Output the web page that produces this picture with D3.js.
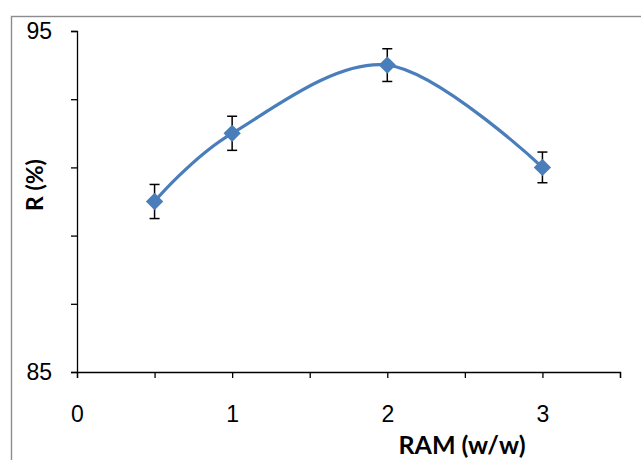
<!DOCTYPE html>
<html>
<head>
<meta charset="utf-8">
<script src="https://cdn.jsdelivr.net/npm/d3@7"></script>
<style>
  body { margin: 0; background: #fff; }
  svg { display: block; font-family: Lato, "Open Sans", sans-serif; }
</style>
</head>
<body>
<svg id="chart" width="641" height="460"></svg>
<script>
'use strict';

// data
const ram = [0.5, 1, 2, 3];
const removal = [90.0, 92.0, 94.0, 91.0];
const errors = [0.5, 0.5, 0.48, 0.45];
const xTicks = [0, 0.5, 1, 1.5, 2, 2.5, 3, 3.5];
const xTickLabels = [0, 1, 2, 3];
const yTicks = [85, 87, 89, 91, 93, 95];
const yTickLabels = [85, 95];

const svg = d3.select('#chart');
const blue = '#4a7ebb';

const x = d3.scaleLinear().domain([0, 3.5]).range([77, 620]);
const y = d3.scaleLinear().domain([85, 95]).range([372, 31]);

// chart frame (runs off the right / bottom edges)
svg.append('rect')
	.attr('x', 11.5).attr('y', 16.5)
	.attr('width', 700).attr('height', 500)
	.attr('fill', 'none')
	.attr('stroke', '#8c8c8c')
	.attr('stroke-width', 1.4);

const styleAxis = g => {
	g.select('.domain').attr('stroke', '#000').attr('stroke-width', 1.3);
	g.selectAll('.tick line').attr('stroke', '#000').attr('stroke-width', 1.3);
	g.selectAll('.tick text').attr('fill', '#000').attr('font-size', 23);
};

svg.append('g')
	.attr('transform', `translate(0,${y(85)})`)
	.call(d3.axisBottom(x)
		.tickValues(xTicks)
		.tickSize(6)
		.tickSizeOuter(6)
		.tickPadding(28)
		.tickFormat(d => xTickLabels.includes(d) ? d : ''))
	.call(styleAxis);

svg.append('g')
	.attr('transform', `translate(${x(0)},0)`)
	.call(d3.axisLeft(y)
		.tickValues(yTicks)
		.tickSize(6)
		.tickSizeOuter(6)
		.tickPadding(19)
		.tickFormat(d => yTickLabels.includes(d) ? d : ''))
	.call(styleAxis);

// axis titles
svg.append('text')
	.attr('x', 462).attr('y', 454)
	.attr('text-anchor', 'middle')
	.attr('font-size', 25).attr('font-weight', 'bold')
	.text('RAM (w/w)');

svg.append('text')
	.attr('transform', 'translate(43,185) rotate(-90)')
	.attr('text-anchor', 'middle')
	.attr('font-size', 23).attr('font-weight', 'bold')
	.text('R (%)');

const pts = ram.map((r, i) => ({x: r, y: removal[i], e: errors[i]}));

// smoothed line
svg.append('path')
	.datum(pts)
	.attr('fill', 'none')
	.attr('stroke', blue)
	.attr('stroke-width', 3.2)
	.attr('d', d3.line()
		.x(d => x(d.x))
		.y(d => y(d.y))
		.curve(d3.curveCardinal.tension(0)));

// error bars
const eb = svg.append('g')
	.attr('stroke', '#000')
	.attr('stroke-width', 1.5)
	.selectAll('g')
	.data(pts)
	.join('g');
eb.append('line')
	.attr('x1', d => x(d.x)).attr('x2', d => x(d.x))
	.attr('y1', d => y(d.y + d.e)).attr('y2', d => y(d.y - d.e));
eb.append('line')
	.attr('x1', d => x(d.x) - 5).attr('x2', d => x(d.x) + 5)
	.attr('y1', d => y(d.y + d.e)).attr('y2', d => y(d.y + d.e));
eb.append('line')
	.attr('x1', d => x(d.x) - 5).attr('x2', d => x(d.x) + 5)
	.attr('y1', d => y(d.y - d.e)).attr('y2', d => y(d.y - d.e));

// diamond markers
svg.append('g')
	.selectAll('path')
	.data(pts)
	.join('path')
	.attr('transform', d => `translate(${x(d.x)},${y(d.y)}) rotate(45)`)
	.attr('d', d3.symbol(d3.symbolSquare, 150))
	.attr('fill', blue);
</script>
</body>
</html>
